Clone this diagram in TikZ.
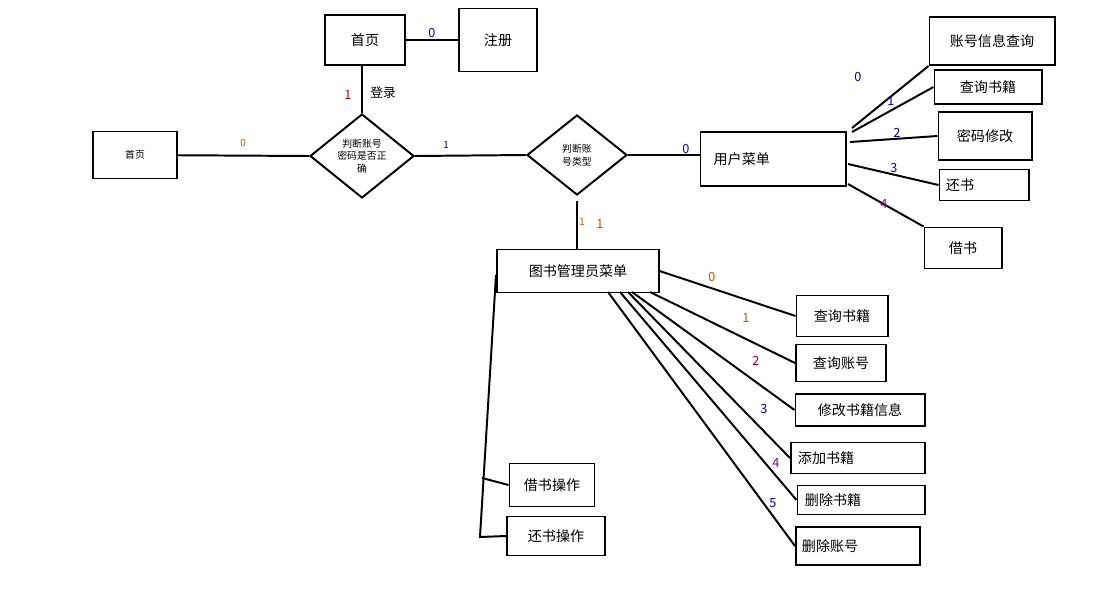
\documentclass[tikz,border=0pt]{standalone}
\usepackage{fontspec}
\setmainfont{Noto Sans CJK SC}
\usetikzlibrary{shapes.geometric}
\tikzset{box/.style={draw, line width=1.4pt, inner sep=0pt, font=\fontsize{10}{12}\selectfont},
         dia/.style={draw, diamond, line width=1.4pt, inner sep=0pt, align=center,
                     font=\fontsize{7}{9}\selectfont},
         lab/.style={font=\fontsize{9}{10}\selectfont},
         link/.style={line width=1.4pt}}
\begin{document}
\begin{tikzpicture}[x=0.025cm,y=-0.025cm]
    \useasboundingbox (0,0) rectangle (1114,606);
    % Draw the boxes
    \node[box, minimum width=2cm, minimum height=1.25cm] at (365,40) (home) {首页};
    \node[box, minimum width=1.95cm, minimum height=1.575cm] at (498,40) (reg) {注册};
    \node[box, minimum width=2.1cm, minimum height=1.175cm] at (135,155) (home2) {\fontsize{7}{9}\selectfont 首页};
    \node[dia, minimum width=2.6cm, minimum height=2.1cm] at (362,156) (check) {判断账号\\密码是否正\\确};
    \node[dia, minimum width=2.5cm, minimum height=2cm] at (577,155) (type) {判断账\\号类型};
    \node[box, minimum width=3.625cm, minimum height=1.35cm, text width=3.2cm] at (773,159) (user) {\ 用户菜单};
    \node[box, minimum width=3.125cm, minimum height=1.2cm] at (992,41) (u0) {账号信息查询};
    \node[box, minimum width=2.675cm, minimum height=0.85cm] at (988,87) (u1) {查询书籍};
    \node[box, minimum width=2.325cm, minimum height=1.2cm] at (985,136) (u2) {密码修改};
    \node[box, minimum width=2.225cm, minimum height=0.775cm, text width=1.9cm] at (984,185) (u3) {还书};
    \node[box, minimum width=1.925cm, minimum height=1.025cm] at (963,248) (u4) {借书};
    \node[box, minimum width=4.025cm, minimum height=1.075cm] at (578,271) (admin) {图书管理员菜单};
    \node[box, minimum width=2.275cm, minimum height=1.025cm] at (842,316) (a0) {查询书籍};
    \node[box, minimum width=2.25cm, minimum height=0.925cm] at (841,363) (a1) {查询账号};
    \node[box, minimum width=3.225cm, minimum height=0.8cm] at (860,410) (a2) {修改书籍信息};
    \node[box, minimum width=3.35cm, minimum height=0.775cm, text width=3cm] at (858,458) (a3) {添加书籍};
    \node[box, minimum width=3.175cm, minimum height=0.725cm, text width=2.8cm] at (861,500) (a4) {删除书籍};
    \node[box, minimum width=3.1cm, minimum height=0.95cm, text width=2.8cm] at (858,546) (a5) {删除账号};
    \node[box, minimum width=2.125cm, minimum height=1.075cm] at (552,485) (borrow) {借书操作};
    \node[box, minimum width=2.45cm, minimum height=0.975cm] at (556,536) (back) {还书操作};
    % Connect the boxes
    \draw[link] (home.south -| check.north) -- (check.north);
    \draw[link] (home) -- (reg);
    \draw[link] (home2) -- (check.west);
    \draw[link] (check.east) -- (type.west);
    \draw[link] (type.east) -- (user.west |- type.east);
    \draw[link] (type.south) ++(0,5) coordinate (t1) -- (t1 |- admin.north);
    \draw[link] (852,128) -- (u0.south west);
    \draw[link] (852,132) -- (u1.west);
    \draw[link] (850,142) -- (u2.west);
    \draw[link] (848,164) -- (u3.west);
    \draw[link] (848,184) -- (u4.north west);
    \draw[link] (admin.east) -- (a0.west);
    \draw[link] (650,292) -- (a1.west);
    \draw[link] (632,292) -- (a2.west);
    \draw[link] (628,292) -- (a3.west);
    \draw[link] (620,292) -- (a4.west);
    \draw[link] (608,292) -- (a5.west);
    \coordinate (bk) at (480,537);
    \draw[link] (496,275) -- (bk) -- (back.west);
    \draw[link] (482,478) -- (borrow.west);
    % Labels
    \node[lab, text=red!70!black] at (348,95) {1};
    \node[lab] at (383,93) {登录};
    \node[lab, text=blue!60!black] at (432,33) {0};
    \node[lab, text=orange!70!black] at (243,143) {\fontsize{7}{8}\selectfont 0};
    \node[lab, text=blue!70!black] at (446,145) {\fontsize{7}{8}\selectfont 1};
    \node[lab, text=blue!70!black] at (686,149) {0};
    \node[lab, text=orange!70!black] at (582,222) {\fontsize{7}{8}\selectfont 1};
    \node[lab, text=orange!70!black] at (600,224) {1};
    \node[lab, text=blue!60!black] at (858,77) {0};
    \node[lab, text=blue!80!black] at (891,101) {1};
    \node[lab, text=blue!60!black] at (897,133) {2};
    \node[lab, text=blue!60!black] at (894,168) {3};
    \node[lab, text=violet] at (884,204) {4};
    \node[lab, text=orange!70!black] at (712,277) {0};
    \node[lab, text=orange!70!black] at (746,318) {1};
    \node[lab, text=violet] at (756,361) {2};
    \node[lab, text=blue!60!black] at (764,409) {3};
    \node[lab, text=violet] at (776,463) {4};
    \node[lab, text=blue!70!black] at (773,503) {5};
\end{tikzpicture}
\end{document}
